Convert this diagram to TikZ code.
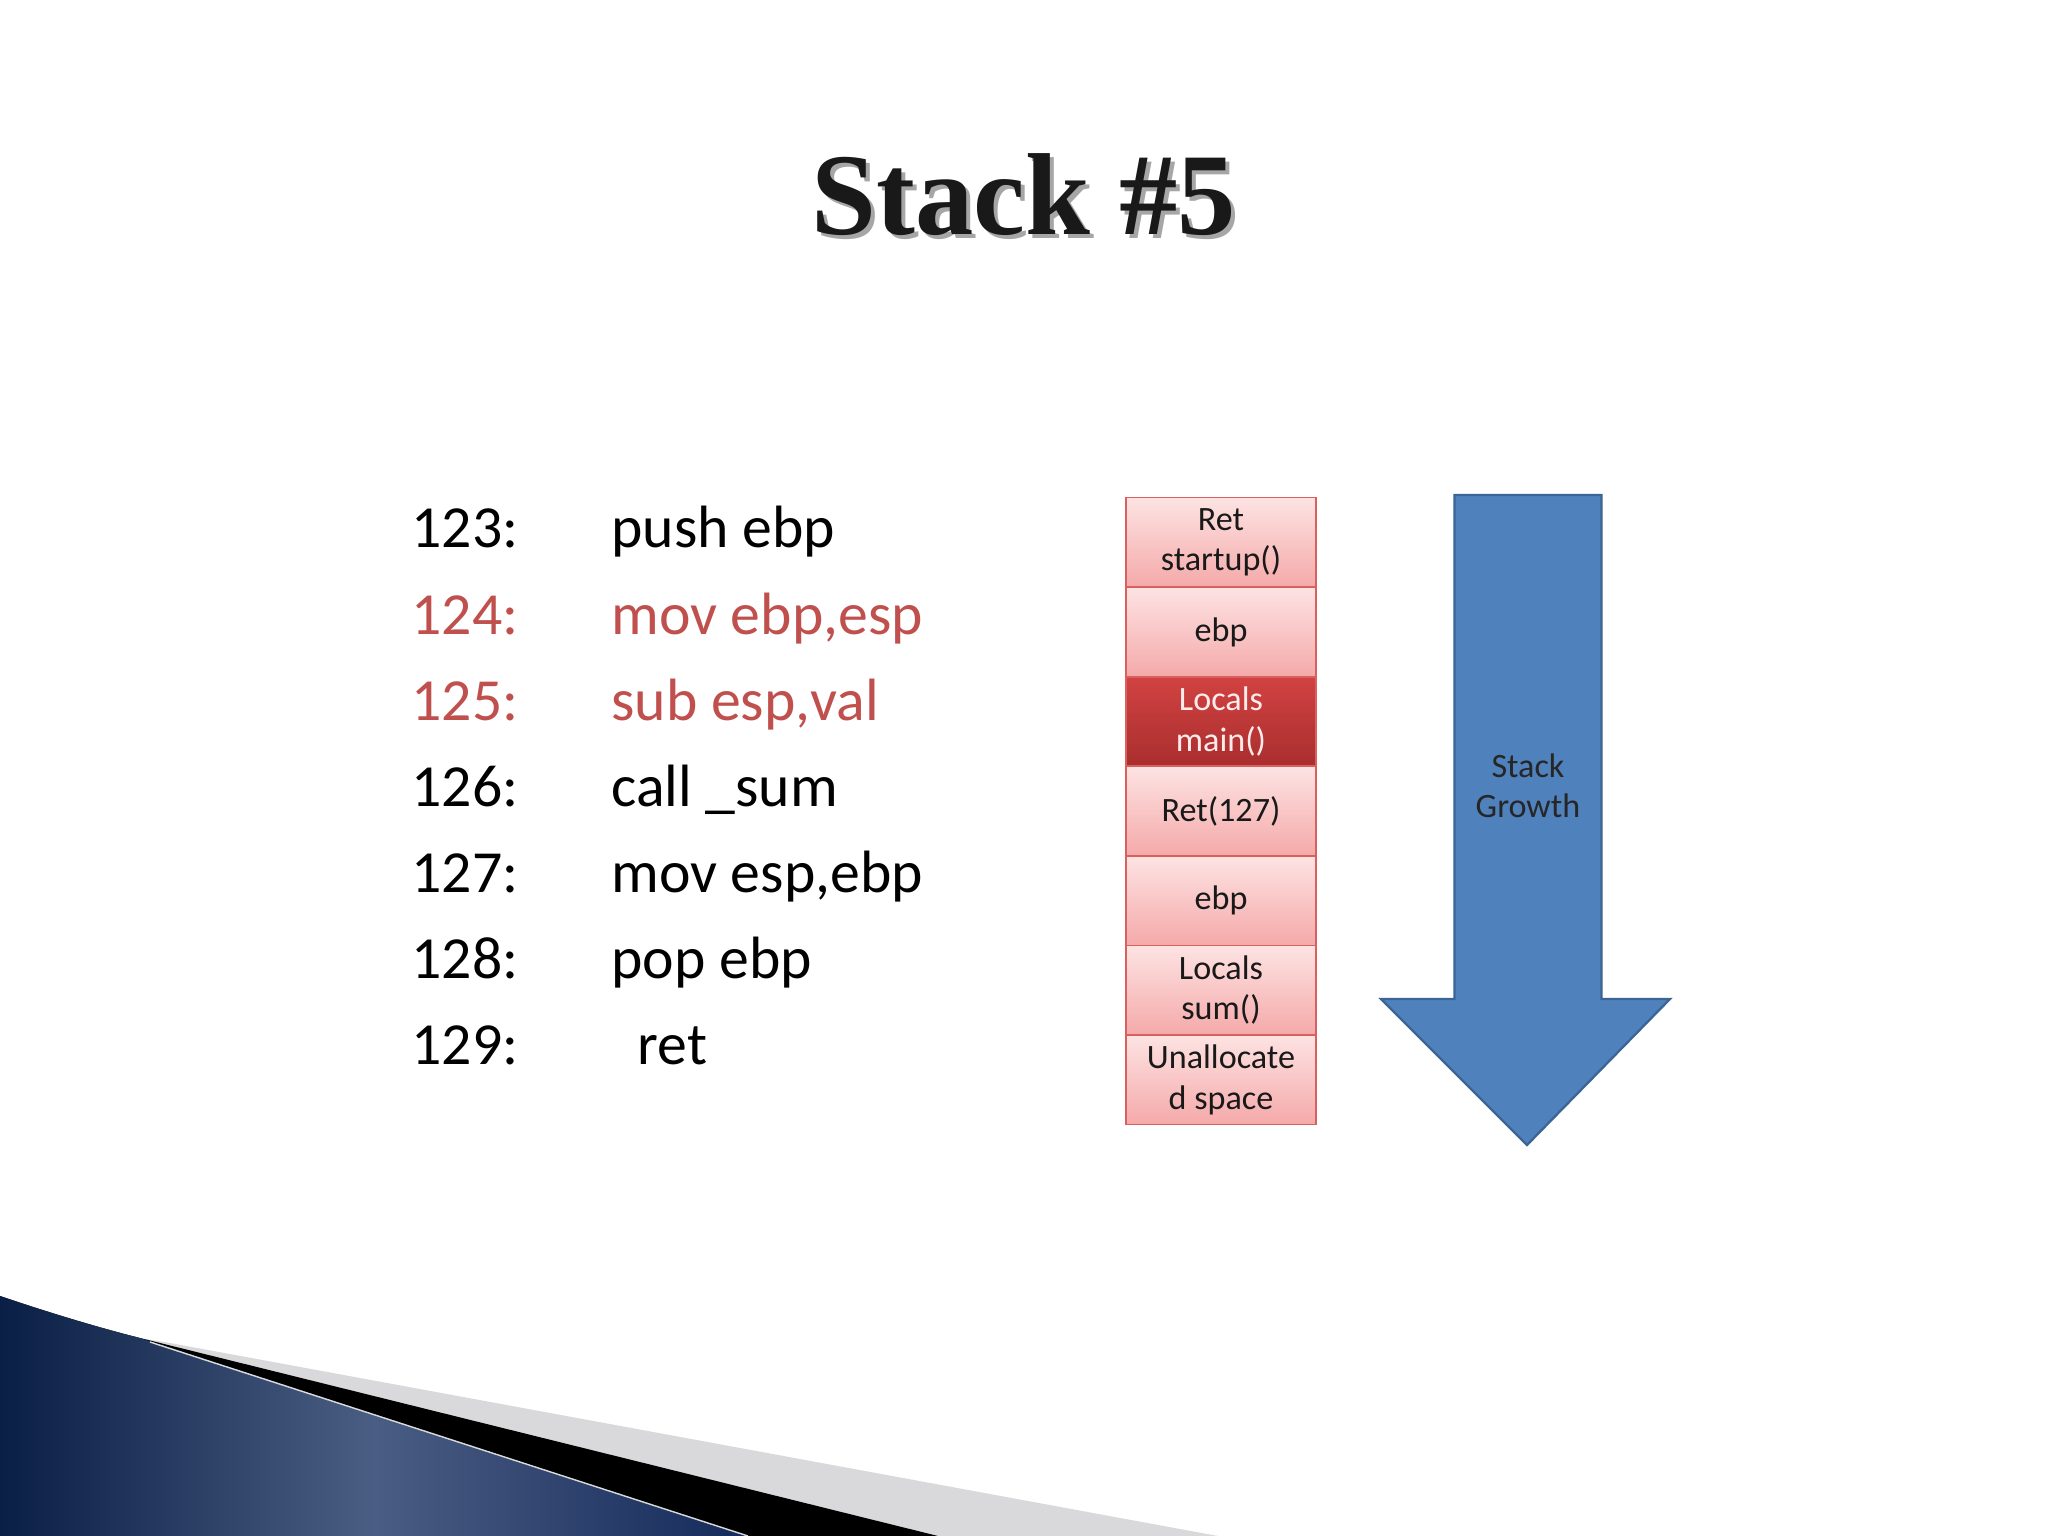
\documentclass[tikz,border=0pt]{standalone}
\usepackage{fontspec}
\setmainfont{Carlito}
\newfontfamily\titlefont{Liberation Serif}
\definecolor{codered}{HTML}{C0504D}
\definecolor{boxtop}{HTML}{FDE3E3}
\definecolor{boxbot}{HTML}{F5A9A9}
\definecolor{boxline}{HTML}{D8605E}
\definecolor{darktop}{HTML}{D24242}
\definecolor{darkbot}{HTML}{A92E2E}
\definecolor{arrowfill}{HTML}{4F81BD}
\definecolor{arrowline}{HTML}{3A6595}
\definecolor{navyA}{HTML}{0A1F45}
\definecolor{navyB}{HTML}{4A5D83}
\definecolor{navyC}{HTML}{142A5A}
\definecolor{band}{HTML}{D9D9DB}
\tikzset{
  stackbox/.style={draw=boxline, line width=0.6pt, top color=boxtop, bottom color=boxbot,
    minimum width=66.8pt, minimum height=31.5pt, inner sep=0pt, align=center,
    font=\fontsize{12}{14.2}\selectfont, text=black!90},
  darkbox/.style={stackbox, top color=darktop, bottom color=darkbot, text=white!92!red},
  codetext/.style={anchor=base west, inner sep=0pt, font=\fontsize{21}{25}\selectfont, text=black},
  redcode/.style={codetext, text=codered},
  arrowshape/.style={fill=arrowfill, draw=arrowline, line width=0.8pt, line join=miter},
}
\begin{document}
\begin{tikzpicture}[x=0.3515625pt, y=-0.3515625pt]
\useasboundingbox (0,0) rectangle (2048,1536);
\fill[white] (0,0) rectangle (2048,1536);

% bottom-left swoosh
\fill[band] (0,1296) .. controls (50,1313) and (100,1328) .. (140,1338) -- (170,1343) -- (1218,1536) -- (0,1536) -- cycle;
\fill[black] (0,1296) .. controls (50,1313) and (100,1328) .. (140,1338) -- (938,1536) -- (0,1536) -- cycle;
\shade[left color=navyA, right color=navyC, middle color=navyB]
  (0,1296) .. controls (50,1313) and (100,1328) .. (140,1338) -- (748,1536) -- (0,1536) -- cycle;
\draw[white!70!gray, line width=0.5pt] (150,1342) -- (748,1536);

% title
\node[font=\titlefont\bfseries\fontsize{41}{48}\selectfont, text=black!35, anchor=base, inner sep=0pt] (titleshadow) at (1028,239) {Stack \#5};
\node[font=\titlefont\bfseries\fontsize{41}{48}\selectfont, text=black!90, anchor=base, inner sep=0pt] (title) at (1024,235) {Stack \#5};

% code listing
\node[codetext] (n1) at (411,548) {123:};
\node[codetext] (c1) at (611,548) {push ebp};
\node[redcode]  (n2) at (411,634) {124:};
\node[redcode]  (c2) at (611,634) {mov ebp,esp};
\node[redcode]  (n3) at (411,720) {125:};
\node[redcode]  (c3) at (611,720) {sub esp,val};
\node[codetext] (n4) at (411,806) {126:};
\node[codetext] (c4) at (611,806) {call \_sum};
\node[codetext] (n5) at (411,892) {127:};
\node[codetext] (c5) at (611,892) {mov esp,ebp};
\node[codetext] (n6) at (411,978) {128:};
\node[codetext] (c6) at (611,978) {pop ebp};
\node[codetext] (n7) at (411,1064) {129:};
\node[codetext] (c7) at (637,1064) {ret};

% stack
\node[stackbox] (s1) at (1221,542.4) {Ret\\startup()};
\node[stackbox] (s2) at (1221,632.0) {ebp};
\node[darkbox]  (s3) at (1221,721.5) {Locals\\main()};
\node[stackbox] (s4) at (1221,811.0) {Ret(127)};
\node[stackbox] (s5) at (1221,900.6) {ebp};
\node[stackbox] (s6) at (1221,990.2) {Locals\\sum()};
\node[stackbox] (s7) at (1221,1079.7) {Unallocate\\d space};

% stack growth arrow
\draw[arrowshape] (1454.5,495) -- (1601.5,495) -- (1601.5,999) -- (1670,999) -- (1527,1145)
  -- (1381,999) -- (1454.5,999) -- cycle;
\node[align=center, inner sep=0pt, font=\fontsize{12}{14.2}\selectfont, text=black!85] (growth) at (1528,786) {Stack\\Growth};
\end{tikzpicture}
\end{document}
